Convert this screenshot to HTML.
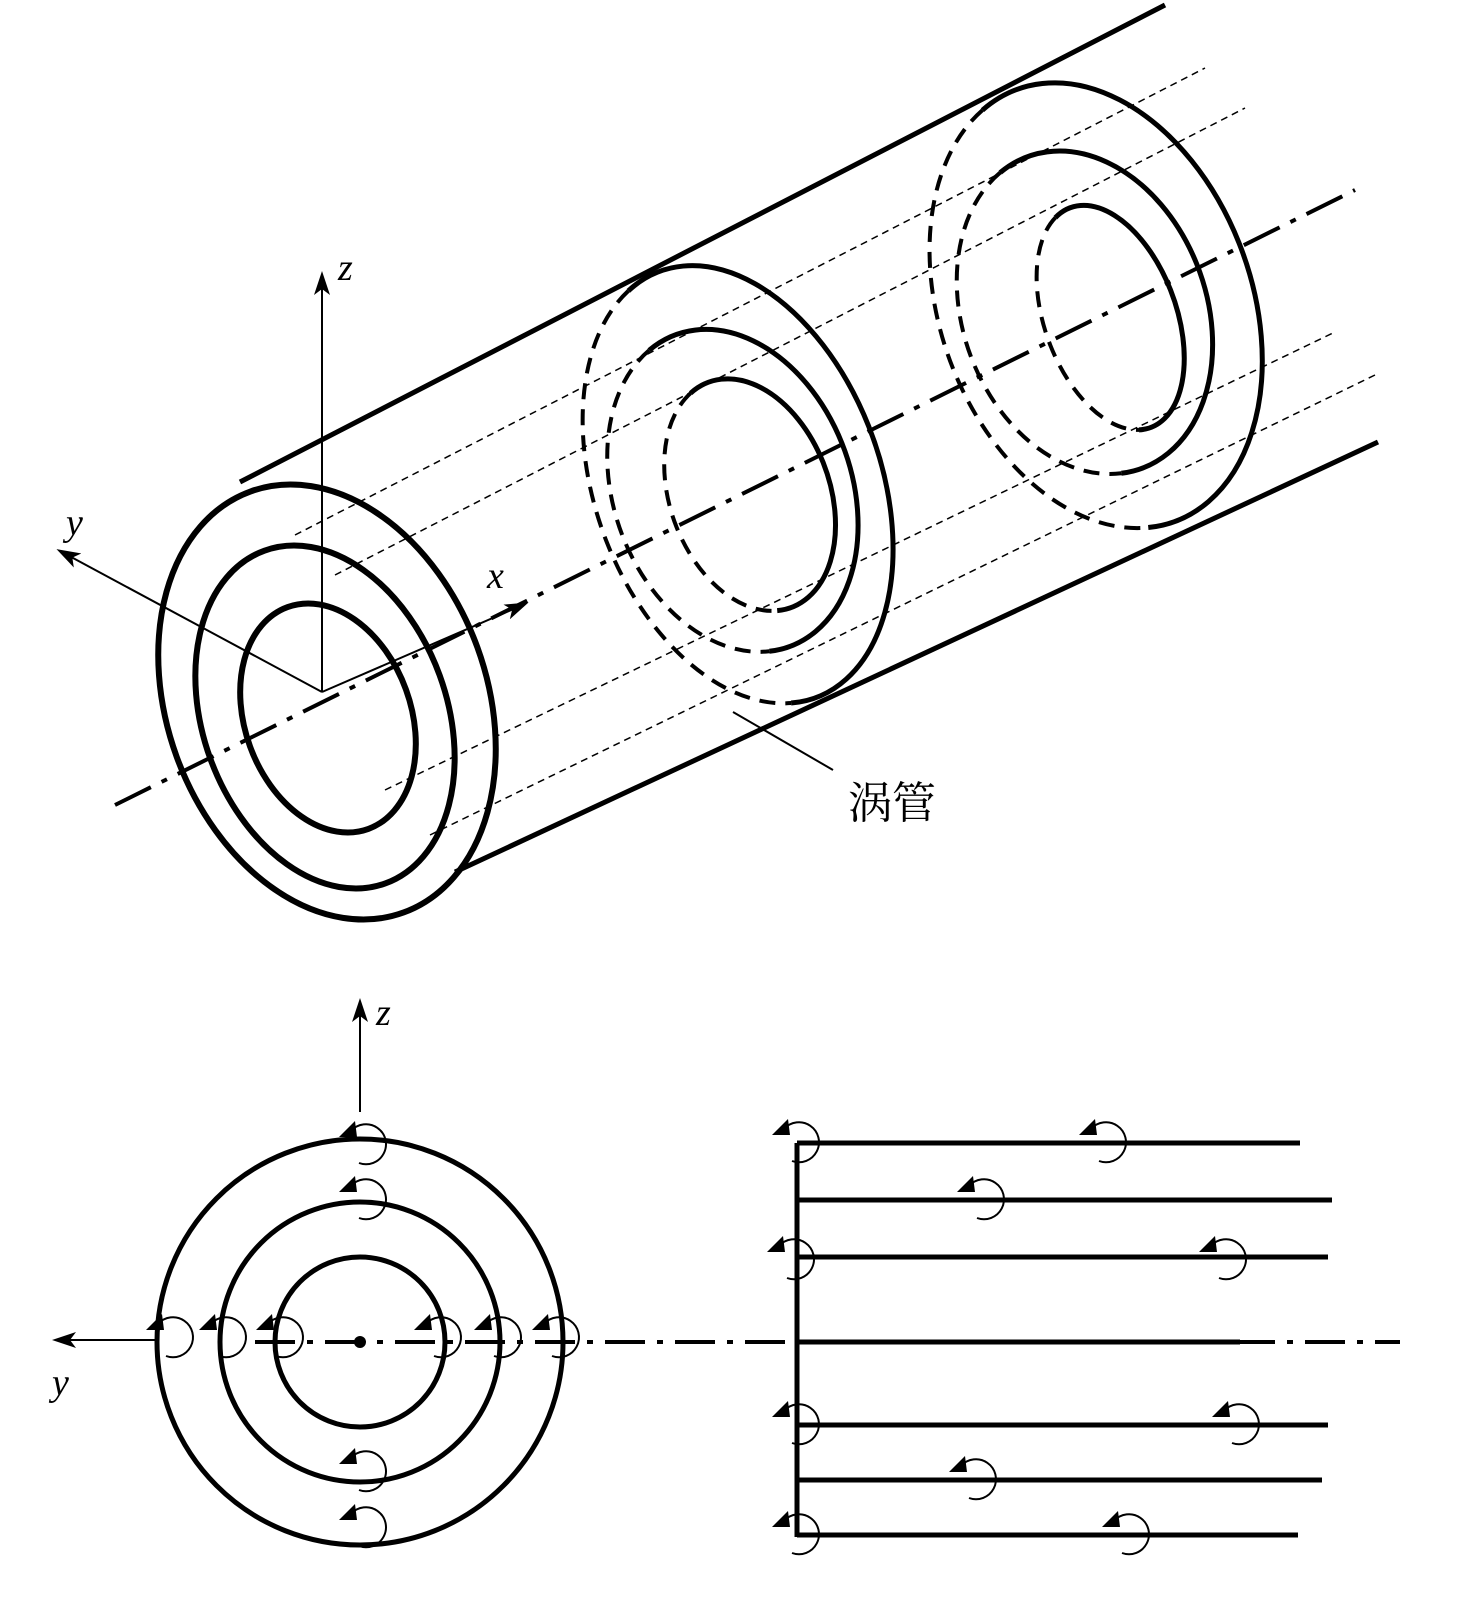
<!DOCTYPE html>
<html><head><meta charset="utf-8"><style>html,body{margin:0;padding:0;background:#fff}svg{display:block}</style></head>
<body>
<svg width="1476" height="1607" viewBox="0 0 1476 1607" xmlns="http://www.w3.org/2000/svg" font-family="'Liberation Serif', serif">
<defs>
<marker id="ar2" markerWidth="24" markerHeight="16" refX="20" refY="8" orient="auto" markerUnits="userSpaceOnUse"><path d="M0,0 L24,8 L0,16 L6,8 Z" fill="#000"/></marker>
<g id="curl"><path d="M-14,-14 A20,20 0 1 1 -6,18" fill="none" stroke="#000" stroke-width="2"/><path d="M-26,-8 L-10,-24 L-8,-8 Z" fill="#000"/></g>
</defs>
<g fill="none" stroke="#000" stroke-linecap="butt">
<!-- thin dashed lines -->
<g stroke-width="1.5" stroke-dasharray="7,5">
<line x1="295" y1="535" x2="1205" y2="68"/>
<line x1="335" y1="575" x2="1245" y2="108"/>
<line x1="385" y1="790" x2="1335" y2="332"/>
<line x1="430" y1="835" x2="1375" y2="375"/>
</g>
<!-- axis dash-dot -->
<line x1="115" y1="805" x2="1355" y2="190" stroke-width="4" stroke-dasharray="40,12,6,12"/>
<!-- tube edges -->
<line x1="240" y1="482" x2="1165" y2="5" stroke-width="5"/>
<line x1="455" y1="872" x2="1378" y2="442" stroke-width="5"/>
<!-- front ellipses -->
<g stroke-width="6">
<ellipse cx="0" cy="0" rx="160" ry="224" transform="translate(327,702) rotate(-20)"/>
<ellipse cx="0" cy="0" rx="122" ry="177" transform="translate(325,717) rotate(-20)"/>
<ellipse cx="0" cy="0" rx="83" ry="118" transform="translate(328,718) rotate(-20)"/>
</g>
<!-- middle ring -->
<g transform="translate(738,484) rotate(-20)">
<path d="M-37,-219 A143,227 0 1 1 -25,224" stroke-width="5"/>
<path d="M-37,-219 A143,227 0 0 0 -25,224" stroke-width="4" stroke-dasharray="16,10"/>
</g>
<g transform="translate(733,490) rotate(-20)">
<path d="M-31,-160 A119,166 0 1 1 -21,164" stroke-width="5"/>
<path d="M-31,-160 A119,166 0 0 0 -21,164" stroke-width="4" stroke-dasharray="16,10"/>
</g>
<g transform="translate(750,495) rotate(-20)">
<path d="M-21,-116 A80,120 0 1 1 -14,118" stroke-width="5"/>
<path d="M-21,-116 A80,120 0 0 0 -14,118" stroke-width="4" stroke-dasharray="16,10"/>
</g>
<!-- far ring -->
<g transform="translate(1096,305) rotate(-20)">
<path d="M-40,-222 A156,230 0 1 1 -27,227" stroke-width="5"/>
<path d="M-40,-222 A156,230 0 0 0 -27,227" stroke-width="4" stroke-dasharray="16,10"/>
</g>
<g transform="translate(1085,312) rotate(-20)">
<path d="M-32,-160 A122,166 0 1 1 -21,164" stroke-width="5"/>
<path d="M-32,-160 A122,166 0 0 0 -21,164" stroke-width="4" stroke-dasharray="16,10"/>
</g>
<g transform="translate(1110,318) rotate(-20)">
<path d="M-17,-113 A66,117 0 1 1 -11,115" stroke-width="5"/>
<path d="M-17,-113 A66,117 0 0 0 -11,115" stroke-width="4" stroke-dasharray="16,10"/>
</g>
<!-- 3D axes -->
<g stroke-width="2">
<line x1="322" y1="692" x2="322" y2="275" marker-end="url(#ar2)"/>
<line x1="322" y1="692" x2="60" y2="551" marker-end="url(#ar2)"/>
<line x1="322" y1="692" x2="525" y2="604" marker-end="url(#ar2)"/>
<line x1="733" y1="712" x2="833" y2="770"/>
</g>
<!-- bottom left -->
<g stroke-width="5">
<circle cx="360" cy="1342" r="203"/>
<circle cx="360" cy="1342" r="140"/>
<circle cx="360" cy="1342" r="85"/>
</g>
<line x1="255" y1="1342" x2="1400" y2="1342" stroke-width="4" stroke-dasharray="40,12,6,12"/>
<g stroke-width="2">
<line x1="360" y1="1112" x2="360" y2="1002" marker-end="url(#ar2)"/>
<line x1="157" y1="1340" x2="56" y2="1340" marker-end="url(#ar2)"/>
</g>
<!-- right lines -->
<g stroke-width="5">
<line x1="797" y1="1143" x2="797" y2="1537"/>
<line x1="797" y1="1143" x2="1300" y2="1143"/>
<line x1="797" y1="1200" x2="1332" y2="1200"/>
<line x1="797" y1="1257" x2="1328" y2="1257"/>
<line x1="797" y1="1342" x2="1240" y2="1342"/>
<line x1="797" y1="1425" x2="1328" y2="1425"/>
<line x1="797" y1="1480" x2="1322" y2="1480"/>
<line x1="797" y1="1535" x2="1298" y2="1535"/>
</g>
</g>
<circle cx="360" cy="1342" r="6" fill="#000"/>
<g>
<use href="#curl" x="365" y="1145"/>
<use href="#curl" x="365" y="1200"/>
<use href="#curl" x="365" y="1472"/>
<use href="#curl" x="365" y="1528"/>
<use href="#curl" x="172" y="1338"/>
<use href="#curl" x="225" y="1338"/>
<use href="#curl" x="282" y="1338"/>
<use href="#curl" x="440" y="1338"/>
<use href="#curl" x="500" y="1338"/>
<use href="#curl" x="558" y="1338"/>
<use href="#curl" x="798" y="1143"/>
<use href="#curl" x="1105" y="1143"/>
<use href="#curl" x="983" y="1200"/>
<use href="#curl" x="793" y="1260"/>
<use href="#curl" x="1225" y="1260"/>
<use href="#curl" x="798" y="1425"/>
<use href="#curl" x="1238" y="1425"/>
<use href="#curl" x="975" y="1480"/>
<use href="#curl" x="798" y="1535"/>
<use href="#curl" x="1128" y="1535"/>
</g>
<g font-style="italic" font-size="38" fill="#000">
<text x="338" y="280">z</text>
<text x="66" y="535">y</text>
<text x="487" y="588">x</text>
<text x="376" y="1025">z</text>
<text x="52" y="1395">y</text>
</g>
<text x="848" y="818" font-size="44" font-family="'Liberation Serif','Noto Serif CJK SC',serif" fill="#000">涡管</text>
</svg>
</body></html>
